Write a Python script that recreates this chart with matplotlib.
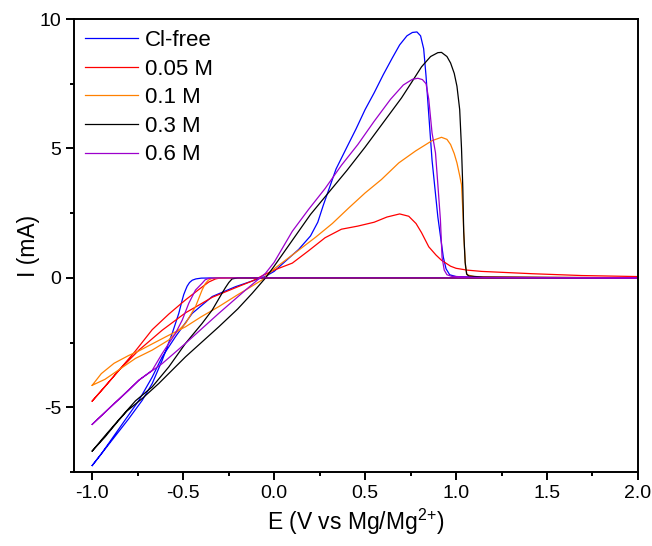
import matplotlib
matplotlib.use("Agg")
import matplotlib.pyplot as plt
from matplotlib.ticker import MultipleLocator

plt.rcParams['font.family'] = ['Liberation Sans', 'DejaVu Sans']
plt.rcParams['axes.unicode_minus'] = False
plt.rcParams['mathtext.default'] = 'regular'

# Datos: barrido anodico (fwd) y catodico (rev) de cada CV
clfree_fwd_E = [-1.0, -0.95, -0.9, -0.85, -0.8, -0.743, -0.67, -0.615, -0.542, -0.45, -0.34, -0.212, -0.12,
                -0.05, 0.0, 0.063, 0.135, 0.2, 0.24, 0.27, 0.3, 0.34, 0.4, 0.45, 0.5, 0.55, 0.6, 0.65, 0.69,
                0.73, 0.76, 0.785, 0.805, 0.822, 0.835, 0.845, 0.868, 0.9, 0.93, 0.945, 0.965, 1.0, 1.2, 2.0]
clfree_fwd_I = [-7.25, -6.8, -6.3, -5.8, -5.3, -4.73, -3.83, -3.05, -2.27, -1.37, -0.72, -0.34, -0.12,
                0.05, 0.25, 0.65, 1.1, 1.62, 2.15, 2.8, 3.4, 4.2, 5.05, 5.75, 6.5, 7.15, 7.85, 8.5, 9.0,
                9.35, 9.48, 9.5, 9.35, 8.85, 7.8, 6.8, 4.55, 2.35, 0.8, 0.35, 0.12, 0.05, 0.01, 0.0]
clfree_rev_E = [2.0, 1.0, 0.0, -0.3, -0.4, -0.43, -0.45, -0.465, -0.478, -0.487, -0.497, -0.505, -0.524,
                -0.56, -0.615, -0.67, -0.725, -0.8, -0.85, -0.9, -0.95, -1.0]
clfree_rev_I = [0.0, 0.0, 0.0, 0.0, -0.01, -0.04, -0.09, -0.18, -0.32, -0.47, -0.65, -0.85, -1.37,
                -2.14, -3.18, -4.08, -4.73, -5.45, -5.9, -6.35, -6.8, -7.25]

m005_fwd_E = [-1.0, -0.93, -0.853, -0.743, -0.615, -0.487, -0.396, -0.34, -0.212, -0.12, -0.06, 0.0, 0.1,
              0.19, 0.28, 0.37, 0.46, 0.55, 0.62, 0.69, 0.74, 0.78, 0.81, 0.85, 0.89, 0.92, 0.97, 1.0,
              1.06, 1.14, 1.42, 1.69, 2.0]
m005_fwd_I = [-4.76, -4.2, -3.57, -2.79, -2.02, -1.35, -0.98, -0.75, -0.38, -0.12, 0.1, 0.3, 0.57,
              1.05, 1.55, 1.88, 2.0, 2.15, 2.35, 2.47, 2.38, 2.1, 1.75, 1.2, 0.88, 0.68, 0.45, 0.37,
              0.3, 0.25, 0.16, 0.09, 0.05]
m005_rev_E = [2.0, 1.0, 0.0, -0.25, -0.3, -0.322, -0.359, -0.414, -0.487, -0.579, -0.67, -0.762, -0.853,
              -0.93, -1.0]
m005_rev_I = [0.0, 0.0, 0.0, 0.0, -0.01, -0.04, -0.16, -0.45, -0.85, -1.4, -2.0, -2.82, -3.57,
              -4.2, -4.76]

m01_fwd_E = [-1.0, -0.95, -0.88, -0.8, -0.743, -0.67, -0.58, -0.487, -0.4, -0.304, -0.2, -0.157, -0.066,
             0.0, 0.135, 0.228, 0.32, 0.41, 0.5, 0.59, 0.685, 0.777, 0.868, 0.92, 0.95, 0.97, 0.99, 1.005,
             1.02, 1.03, 1.038, 1.045, 1.052, 1.06, 1.1, 1.5, 2.0]
m01_fwd_I = [-4.15, -3.7, -3.3, -3.0, -2.82, -2.55, -2.22, -1.89, -1.5, -1.11, -0.65, -0.47, -0.08,
             0.35, 1.07, 1.57, 2.1, 2.7, 3.28, 3.8, 4.44, 4.9, 5.3, 5.43, 5.35, 5.15, 4.8, 4.44,
             3.95, 3.6, 2.5, 1.3, 0.45, 0.12, 0.05, 0.02, 0.01]
m01_rev_E = [2.0, 1.0, 0.0, -0.3, -0.34, -0.36, -0.378, -0.396, -0.432, -0.487, -0.579, -0.67, -0.762,
             -0.853, -0.93, -1.0]
m01_rev_I = [0.0, 0.0, 0.0, 0.0, -0.02, -0.08, -0.22, -0.47, -1.11, -1.76, -2.4, -2.79, -3.11,
             -3.55, -3.92, -4.15]

m03_fwd_E = [-1.0, -0.93, -0.86, -0.81, -0.725, -0.634, -0.487, -0.304, -0.2, -0.121, -0.047, 0.0, 0.1,
             0.2, 0.3, 0.4, 0.5, 0.6, 0.7, 0.76, 0.81, 0.86, 0.9, 0.92, 0.95, 0.97, 0.99, 1.005, 1.02,
             1.03, 1.037, 1.042, 1.05, 1.058, 1.07, 1.15, 2.0]
m03_fwd_I = [-6.69, -6.15, -5.55, -5.15, -4.66, -4.08, -3.05, -1.89, -1.2, -0.6, 0.0, 0.45, 1.45,
             2.45, 3.3, 4.15, 5.05, 6.0, 6.95, 7.6, 8.15, 8.55, 8.7, 8.71, 8.55, 8.3, 7.9, 7.4, 6.5,
             5.0, 3.5, 1.8, 0.6, 0.15, 0.07, 0.03, 0.0]
m03_rev_E = [2.0, 1.0, 0.0, -0.2, -0.231, -0.249, -0.268, -0.286, -0.34, -0.396, -0.487, -0.579, -0.67,
             -0.762, -0.85, -0.93, -1.0]
m03_rev_I = [0.0, 0.0, 0.0, 0.0, -0.04, -0.18, -0.38, -0.59, -1.24, -1.76, -2.53, -3.44, -4.21,
             -4.75, -5.45, -6.1, -6.69]

m06_fwd_E = [-1.0, -0.9, -0.8, -0.743, -0.615, -0.487, -0.304, -0.157, -0.047, 0.0, 0.1, 0.19, 0.28,
             0.37, 0.46, 0.55, 0.64, 0.71, 0.76, 0.79, 0.815, 0.835, 0.85, 0.868, 0.887, 0.9, 0.914,
             0.923, 0.935, 0.95, 0.976, 1.1, 2.0]
m06_fwd_I = [-5.66, -4.99, -4.33, -3.95, -3.31, -2.53, -1.37, -0.47, 0.18, 0.6, 1.8, 2.65, 3.45,
             4.35, 5.15, 6.05, 6.9, 7.45, 7.67, 7.71, 7.66, 7.5, 6.9, 5.6, 4.83, 3.6, 2.25,
             0.8, 0.3, 0.12, 0.06, 0.02, 0.0]
m06_rev_E = [2.0, 1.0, 0.0, -0.3, -0.36, -0.38, -0.396, -0.432, -0.469, -0.505, -0.542, -0.615, -0.67,
             -0.743, -0.8, -0.9, -1.0]
m06_rev_I = [0.0, 0.0, 0.0, 0.0, -0.02, -0.08, -0.21, -0.47, -0.98, -1.63, -2.14, -2.92, -3.57,
             -3.95, -4.35, -5.0, -5.66]

labels = ['Cl-free', '0.05 M', '0.1 M', '0.3 M', '0.6 M']
colors = ['#0000FF', '#FF0000', '#FF8000', '#000000', '#9C00CC']
curves = [
    (clfree_fwd_E, clfree_fwd_I, clfree_rev_E, clfree_rev_I),
    (m005_fwd_E, m005_fwd_I, m005_rev_E, m005_rev_I),
    (m01_fwd_E, m01_fwd_I, m01_rev_E, m01_rev_I),
    (m03_fwd_E, m03_fwd_I, m03_rev_E, m03_rev_I),
    (m06_fwd_E, m06_fwd_I, m06_rev_E, m06_rev_I),
]

fig = plt.figure(figsize=(6.52, 5.46), dpi=100)
ax = fig.add_axes([0.1135, 0.1355, 0.865, 0.8297])

for (fE, fI, rE, rI), lab, col in zip(curves, labels, colors):
    ax.plot(fE + rE, fI + rI, color=col, lw=0.9, label=lab)

ax.set_xlim(-1.1, 2.0)
ax.set_ylim(-7.5, 10)
ax.xaxis.set_major_locator(MultipleLocator(0.5))
ax.xaxis.set_minor_locator(MultipleLocator(0.25))
ax.yaxis.set_major_locator(MultipleLocator(5))
ax.yaxis.set_minor_locator(MultipleLocator(2.5))
ax.xaxis.set_major_formatter(plt.FuncFormatter(lambda v, p: f"{v:.1f}"))
ax.yaxis.set_major_formatter(plt.FuncFormatter(lambda v, p: f"{v:.0f}"))

for s in ax.spines.values():
    s.set_linewidth(1.4)
ax.tick_params(which='both', direction='out', top=False, right=False, width=1.4, labelsize=14, pad=3)
ax.tick_params(which='major', length=6)
ax.tick_params(which='minor', length=3)

ax.set_xlabel('E (V vs Mg/Mg$^{2{+}}$)', fontsize=16.5, labelpad=4)
ax.set_ylabel('I (mA)', fontsize=16.5, labelpad=0)

ax.legend(loc='upper left', frameon=False, fontsize=16, handlelength=2.4, handletextpad=0.3,
          labelspacing=0.34, borderaxespad=0.2, borderpad=0.3)

fig.savefig('out.png', dpi=100)
